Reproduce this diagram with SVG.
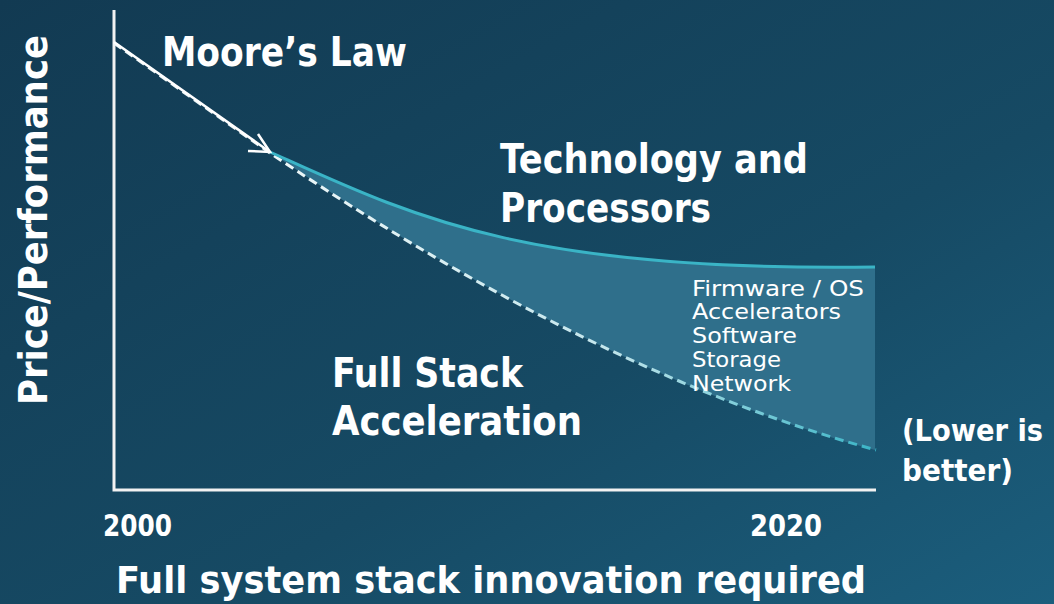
<svg xmlns="http://www.w3.org/2000/svg" width="1054" height="604" viewBox="0 0 1054 604">
<defs>
<linearGradient id="bg" x1="0" y1="0" x2="1" y2="1">
<stop offset="0" stop-color="#123a52"/>
<stop offset="0.6" stop-color="#164a64"/>
<stop offset="1" stop-color="#1b5e7d"/>
</linearGradient>
<linearGradient id="dash" gradientUnits="userSpaceOnUse" x1="270" y1="0" x2="876" y2="0">
<stop offset="0" stop-color="#eef7f8"/>
<stop offset="0.55" stop-color="#c4e6ec"/>
<stop offset="1" stop-color="#3ab4c6"/>
</linearGradient>
<style>
.t{font-family:"DejaVu Sans","Liberation Sans",sans-serif;font-stretch:condensed;fill:#ffffff}
.b{font-weight:bold}
.big{font-size:40px}
.mid{font-size:31px}
.sm{font-size:22px}
.axis{stroke:#f2f2f2;stroke-width:3;fill:none}
</style>
</defs>
<rect width="1054" height="604" fill="url(#bg)"/>

<g id="band">
<path d="M270,152 C410,215 520,272 875,267 L875,450 C620,380 400,240 270,152 Z" fill="#2f6f8b"/>
</g>

<g id="connectors">
<path class="axis" d="M114,10 L114,490 L876,490"/>
<path d="M114,43 L270,153 C400,240 620,380 876,450" fill="none" stroke="url(#dash)" stroke-width="3" stroke-dasharray="9 5"/>
<path d="M270,152 C410,215 520,272 875,267" fill="none" stroke="#3ab4c6" stroke-width="3"/>
<line x1="114" y1="42" x2="270" y2="152" stroke="#ffffff" stroke-width="2.5"/>
<polyline points="258,134 270,152 248,151" fill="none" stroke="#ffffff" stroke-width="2.5"/>
</g>

<g id="moores-law"><text class="t b big" x="162" y="66" textLength="245" lengthAdjust="spacingAndGlyphs">Moore’s Law</text></g>
<g id="technology">
<text class="t b big" x="500" y="173" textLength="308" lengthAdjust="spacingAndGlyphs">Technology and</text>
<text class="t b big" x="500" y="222" textLength="211" lengthAdjust="spacingAndGlyphs">Processors</text>
</g>
<g id="full-stack">
<text class="t b big" x="332" y="387" textLength="191" lengthAdjust="spacingAndGlyphs">Full Stack</text>
<text class="t b big" x="332" y="435" textLength="250" lengthAdjust="spacingAndGlyphs">Acceleration</text>
</g>
<g id="layers">
<text class="t sm" x="692" y="296" textLength="172" lengthAdjust="spacingAndGlyphs">Firmware / OS</text>
<text class="t sm" x="692" y="319" textLength="149" lengthAdjust="spacingAndGlyphs">Accelerators</text>
<text class="t sm" x="692" y="343" textLength="105" lengthAdjust="spacingAndGlyphs">Software</text>
<text class="t sm" x="692" y="367" textLength="89" lengthAdjust="spacingAndGlyphs">Storage</text>
<text class="t sm" x="692" y="391" textLength="99" lengthAdjust="spacingAndGlyphs">Network</text>
</g>
<g id="lower-better">
<text class="t b mid" x="902" y="441" textLength="141" lengthAdjust="spacingAndGlyphs">(Lower is</text>
<text class="t b mid" x="902" y="481" textLength="111" lengthAdjust="spacingAndGlyphs">better)</text>
</g>
<g id="x-labels">
<text class="t b mid" x="103" y="536" textLength="69" lengthAdjust="spacingAndGlyphs">2000</text>
<text class="t b mid" x="750" y="536" textLength="72" lengthAdjust="spacingAndGlyphs">2020</text>
<text class="t b" style="font-size:38px" x="116" y="593" textLength="750" lengthAdjust="spacingAndGlyphs">Full system stack innovation required</text>
</g>
<g id="y-label">
<text class="t b" style="font-size:39px" transform="translate(47,405) rotate(-90)" x="0" y="0" textLength="370" lengthAdjust="spacingAndGlyphs">Price/Performance</text>
</g>
</svg>
